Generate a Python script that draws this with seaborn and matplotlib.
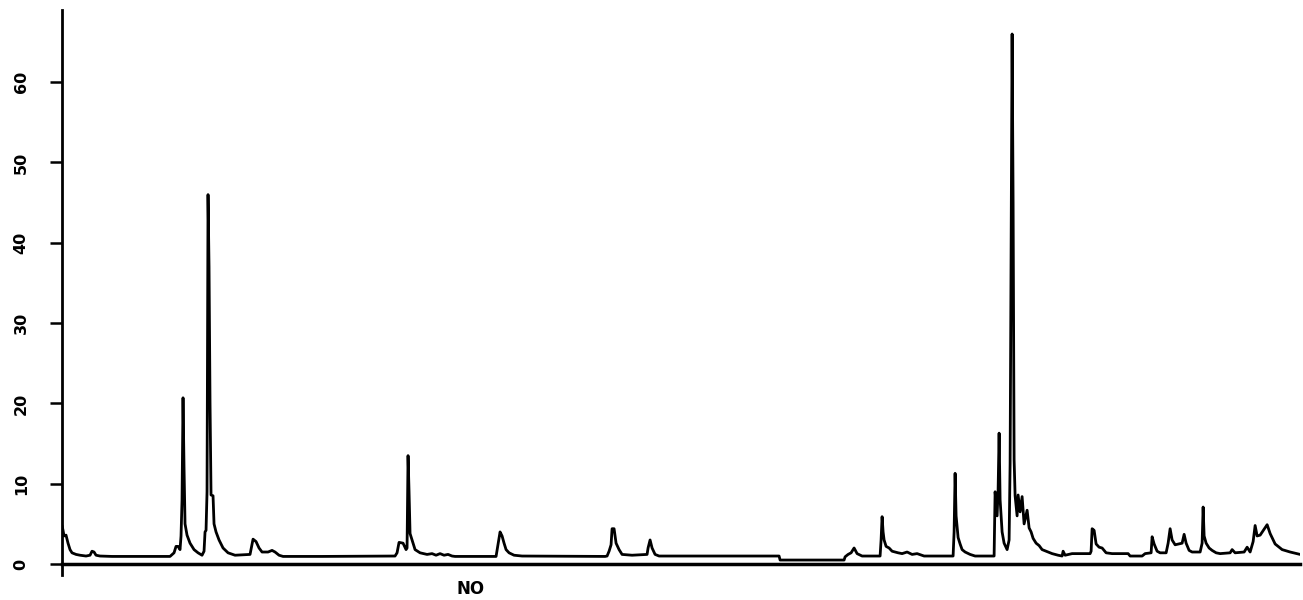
import matplotlib
matplotlib.use("Agg")
import matplotlib.pyplot as plt
import seaborn as sns
import pandas as pd

# Trace, as (position along record, value) pairs, grouped by region
seg_start = [(0, 4.8), (1, 4.2), (2, 3.5), (4, 3.6), (6, 2.6), (8, 1.8), (10, 1.4), (14, 1.2),
             (18, 1.1), (24, 1.0), (28, 1.1), (30, 1.6), (32, 1.5), (34, 1.1), (38, 1.0),
             (50, 0.95), (80, 0.95), (108, 0.95), (112, 1.4), (114, 2.2), (116, 2.2), (118, 1.8)]
seg_peaks_a = [(119, 3.5), (120, 8.0), (121, 20.7), (122, 12.0), (123, 5.0), (125, 3.6),
               (128, 2.6), (132, 1.8), (136, 1.4), (140, 1.1), (142, 1.6), (143, 4.0),
               (144, 4.2), (145, 9.0), (146, 46.0), (147, 37.0), (148, 20.0), (149, 8.6),
               (151, 8.5), (152, 5.0), (154, 4.0), (157, 3.0), (161, 2.0), (166, 1.4),
               (173, 1.1)]
seg_bump_a = [(188, 1.2), (191, 3.1), (194, 2.8), (197, 2.0), (200, 1.5), (206, 1.5),
              (210, 1.7), (213, 1.5), (217, 1.1), (221, 0.95), (260, 0.95), (333, 1.0)]
seg_peak_b = [(335, 1.4), (337, 2.7), (341, 2.6), (344, 1.8), (345, 2.0), (346, 13.5),
              (347, 9.0), (348, 3.8), (350, 3.0), (353, 1.8), (358, 1.4), (365, 1.2),
              (370, 1.3), (374, 1.1), (378, 1.3), (382, 1.1), (386, 1.2), (390, 1.0),
              (393, 0.95), (434, 0.95)]
seg_mid = [(436, 2.5), (438, 4.0), (440, 3.5), (442, 2.6), (444, 1.8), (447, 1.4), (452, 1.1),
           (460, 1.0), (543, 0.95), (545, 1.0), (547, 1.6), (549, 2.4), (550, 4.4), (552, 4.4),
           (554, 2.6), (557, 1.8), (560, 1.2), (570, 1.1), (585, 1.2), (586, 2.0), (588, 3.0),
           (590, 2.0), (593, 1.2), (597, 1.0), (717, 1.0), (718, 0.5), (782, 0.5)]
seg_peaks_c = [(783, 0.9), (786, 1.2), (789, 1.4), (792, 2.0), (795, 1.3), (800, 1.0),
               (818, 1.0), (819, 3.0), (820, 5.9), (821, 4.0), (822, 3.0), (824, 2.2),
               (827, 2.0), (830, 1.6), (833, 1.5), (836, 1.4), (840, 1.3), (845, 1.5),
               (850, 1.2), (855, 1.3), (862, 1.0), (891, 1.0), (892, 4.0), (893, 11.3),
               (894, 6.0), (896, 3.3), (898, 2.5), (900, 1.8), (903, 1.5), (908, 1.2),
               (913, 1.0), (932, 1.0)]
seg_cluster = [(933, 9.0), (935, 6.0), (936, 9.2), (937, 16.3), (938, 8.0), (940, 4.0),
               (942, 2.6), (945, 1.8), (947, 3.0), (948, 12.5), (950, 66.0), (951, 45.0),
               (952, 13.0), (953, 8.5), (955, 6.0), (956, 8.6), (958, 6.5), (960, 8.4),
               (962, 5.0), (965, 6.7), (967, 4.5), (969, 4.0), (971, 3.2), (974, 2.6),
               (977, 2.3), (980, 1.8), (984, 1.6), (990, 1.3), (996, 1.1), (1000, 1.0),
               (1001, 1.6), (1003, 1.1), (1010, 1.3), (1028, 1.3)]
seg_end = [(1029, 1.6), (1030, 4.4), (1032, 4.2), (1034, 2.5), (1037, 2.1), (1040, 2.0),
           (1044, 1.4), (1050, 1.3), (1066, 1.3), (1068, 1.0), (1080, 1.0), (1083, 1.3),
           (1089, 1.4), (1090, 3.4), (1092, 2.5), (1095, 1.6), (1098, 1.4), (1104, 1.4),
           (1106, 2.6), (1107, 3.5), (1108, 4.4), (1110, 3.0), (1113, 2.4), (1120, 2.6),
           (1122, 3.7), (1124, 2.6), (1127, 1.7), (1130, 1.5), (1138, 1.5), (1140, 2.6),
           (1141, 7.1), (1142, 3.5), (1144, 2.6), (1147, 2.0), (1150, 1.7), (1154, 1.4),
           (1158, 1.3), (1168, 1.4), (1170, 1.8), (1173, 1.4), (1182, 1.5), (1185, 2.1),
           (1188, 1.5), (1191, 2.8), (1193, 4.8), (1195, 3.5), (1198, 3.6), (1205, 4.9),
           (1208, 3.8), (1213, 2.5), (1220, 1.8), (1228, 1.5), (1238, 1.2)]

y_ticks = [0, 10, 20, 30, 40, 50, 60]
y_tick_labels = ["0", "10", "20", "30", "40", "50", "60"]
x_label = "NO"

points = (seg_start + seg_peaks_a + seg_bump_a + seg_peak_b + seg_mid + seg_peaks_c
          + seg_cluster + seg_end)
df = pd.DataFrame(points, columns=["pos", "value"])

sns.set_theme(style="white")
plt.rcParams["font.family"] = ["DejaVu Sans", "DejaVu Sans Mono"]

fig = plt.figure(figsize=(13.03, 6.0), dpi=100)
ax = fig.add_axes([0.0476, 0.0425, 0.9502, 0.941])

sns.lineplot(data=df, x="pos", y="value", ax=ax, color="black", linewidth=2.0,
             estimator=None, sort=False)

ax.set_xlim(0, 1238)
ax.set_ylim(-1.3, 69)

for s in ["top", "right"]:
    ax.spines[s].set_visible(False)
ax.spines["bottom"].set_position(("data", 0))
ax.spines["bottom"].set_linewidth(2.5)
ax.spines["left"].set_linewidth(2.0)
ax.spines["bottom"].set_color("black")
ax.spines["left"].set_color("black")

ax.set_yticks(y_ticks)
ax.set_yticklabels(y_tick_labels, rotation=90, va="center", fontsize=11.5,
                   fontweight="semibold", color="black")
ax.tick_params(axis="y", direction="out", length=9, width=1.8, color="black",
               pad=15, left=True)
ax.set_xticks([])

ax.set_ylabel("")
ax.set_xlabel(x_label, fontsize=12, fontweight="bold", color="black")
ax.xaxis.set_label_coords(0.33, -0.01)

fig.savefig("out.png", dpi=100, facecolor="white")
